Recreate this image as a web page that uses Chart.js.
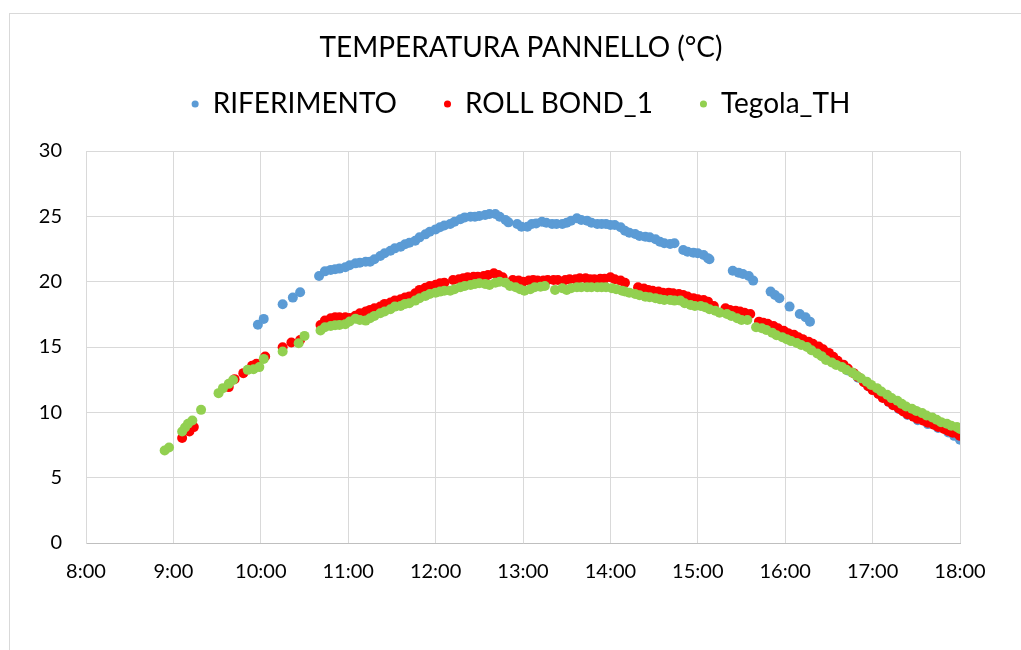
<!DOCTYPE html>
<html>
<head>
<meta charset="utf-8">
<script src="https://cdn.jsdelivr.net/npm/chart.js@4.4.1/dist/chart.umd.min.js"></script>
<style>
  html, body { margin: 0; padding: 0; background: #fff; overflow: hidden; width: 1021px; height: 650px; }
  #frame { position: absolute; left: 9px; top: 13px; width: 1100px; height: 700px; border: 1px solid #d9d9d9; }
  #wrap { position: absolute; left: 10px; top: 0; width: 1022px; height: 650px; }
</style>
</head>
<body>
<div id="frame"></div>
<div id="wrap"><canvas id="c" width="1022" height="650"></canvas></div>
<script>
const chartTitle = "TEMPERATURA PANNELLO (°C)";
const seriesNames = ["RIFERIMENTO", "ROLL BOND_1", "Tegola_TH"];
const seriesColors = ["#5b9bd5", "#ff0000", "#92d050"];
const yTicks = [0, 5, 10, 15, 20, 25, 30];
const xTickLabels = ["8:00","9:00","10:00","11:00","12:00","13:00","14:00","15:00","16:00","17:00","18:00"];

const rifTimes = ["9:58","10:02","10:15","10:22","10:27",
  "10:40","10:44","10:48","10:51","10:54","10:58","11:01","11:05","11:08","11:12","11:15","11:18","11:22","11:25","11:29","11:32","11:36","11:39","11:42","11:46","11:49","11:53","11:56","12:00","12:03","12:06","12:10","12:13","12:17","12:20","12:24","12:27","12:30","12:34","12:37","12:41","12:44","12:48","12:50",
  "12:56","12:59","13:03","13:06","13:09","13:13","13:16","13:20","13:23","13:27","13:30","13:33","13:37","13:40","13:44","13:47","13:51","13:54","13:57","14:00","14:03","14:07","14:10","14:13","14:17","14:20","14:24","14:27","14:31","14:34","14:37","14:41","14:44",
  "14:50","14:53","14:57","15:00","15:04","15:07","15:08",
  "15:24","15:28","15:31","15:35","15:38",
  "15:50","15:53","15:56","16:03","16:10","16:14","16:17",
  "16:30","16:36","16:43","16:50","16:57","17:04","17:11","17:18","17:24","17:31","17:38","17:45","17:52","17:56","18:00"];
const rifValues = [16.7,17.15,18.27,18.78,19.19,
  20.44,20.79,20.9,20.95,21.0,21.1,21.25,21.4,21.45,21.53,21.53,21.71,21.96,22.17,22.37,22.55,22.68,22.86,22.98,23.13,23.39,23.62,23.82,24.0,24.16,24.3,24.41,24.59,24.77,24.92,24.97,24.97,25.02,25.1,25.18,25.18,24.97,24.72,24.54,
  24.41,24.2,24.2,24.41,24.46,24.59,24.51,24.41,24.41,24.41,24.51,24.66,24.85,24.72,24.66,24.51,24.41,24.41,24.41,24.33,24.33,24.16,23.9,23.75,23.65,23.49,23.44,23.39,23.24,23.06,22.94,22.88,22.94,
  22.42,22.29,22.22,22.17,22.04,21.79,21.71,
  20.84,20.69,20.59,20.44,20.08,
  19.24,18.98,18.73,18.09,17.53,17.28,16.94,
  14.3,13.8,13.2,12.65,12.0,11.45,10.8,10.25,9.8,9.4,9.1,8.8,8.45,8.2,7.9];

const rbTimes = ["9:06","9:11","9:14","9:38","9:42","9:48","9:54","9:57","10:03","10:15","10:21","10:27",
  "10:41","10:44","10:48","10:51","10:54","10:58","11:01","11:05","11:08","11:12","11:15","11:18","11:22","11:25","11:29","11:32","11:36","11:39","11:42","11:46","11:49","11:53","11:56","12:00","12:03","12:06",
  "12:12","12:16","12:19","12:22","12:26","12:29","12:33","12:36","12:40","12:43","12:46",
  "12:53","12:57","13:00","13:04","13:07","13:10","13:14","13:17","13:21","13:24","13:29","13:32","13:36","13:39","13:43","13:46","13:49","13:53","13:56","14:00","14:03","14:07","14:10",
  "14:19","14:23","14:26","14:29","14:33","14:36","14:40","14:43","14:47","14:50","14:53","14:57","15:00","15:04","15:07","15:11",
  "15:19","15:22","15:26","15:29","15:32","15:36",
  "15:42","15:45","15:48","15:52","15:55","15:59","16:02","16:06","16:09","16:12","16:16","16:19","16:23","16:26","16:30","16:33","16:36","16:40","16:43","16:47","16:50","16:54","16:57","17:00","17:04","17:07","17:11","17:14","17:18","17:21","17:24","17:28","17:31","17:35","17:38","17:42","17:45","17:49","17:52","17:55","17:59","18:00"];
const rbValues = [8.03,8.53,8.87,11.93,12.54,13.0,13.56,13.71,14.27,14.98,15.34,15.54,
  16.69,17.02,17.2,17.28,17.28,17.28,17.22,17.4,17.58,17.71,17.84,17.97,18.09,18.3,18.4,18.55,18.65,18.78,18.86,19.11,19.37,19.54,19.67,19.77,19.88,19.92,
  20.13,20.18,20.26,20.34,20.38,20.38,20.44,20.51,20.64,20.51,20.34,
  20.13,20.08,20.0,20.08,20.13,20.08,20.08,20.13,20.13,20.13,20.13,20.18,20.18,20.26,20.26,20.18,20.18,20.23,20.23,20.34,20.18,20.08,19.92,
  19.57,19.47,19.37,19.31,19.24,19.16,19.16,19.11,19.06,18.98,18.86,18.73,18.65,18.6,18.47,18.14,
  17.97,17.84,17.78,17.71,17.63,17.53,
  16.94,16.86,16.77,16.61,16.44,16.25,16.06,15.93,15.75,15.6,15.41,15.24,15.03,14.83,14.55,14.25,13.95,13.65,13.35,13.0,12.7,12.3,12.0,11.7,11.4,11.1,10.82,10.55,10.3,10.06,9.85,9.66,9.5,9.35,9.2,9.05,8.88,8.72,8.58,8.44,8.3,8.2];

const thTimes = ["8:54","8:57","9:06","9:08","9:10","9:13","9:19","9:31","9:34","9:38","9:41","9:51","9:55","9:59","10:02","10:15","10:26","10:30",
  "10:41","10:44","10:48","10:51","10:54","10:58","11:01","11:05","11:08","11:12","11:15","11:18","11:22","11:25","11:29","11:32","11:36","11:39","11:42","11:46","11:49","11:53","11:56","12:00","12:03","12:06",
  "12:10","12:13","12:17","12:20","12:24","12:27","12:30","12:34","12:37","12:41","12:44","12:48","12:51","12:55","12:58","13:01","13:05","13:08","13:12","13:15",
  "13:22","13:27","13:30","13:33","13:37","13:40","13:44","13:47","13:51","13:54","13:57","14:01","14:04","14:08","14:10","14:13","14:17","14:20","14:24","14:27","14:31","14:34","14:37","14:41","14:44",
  "14:48","14:51","14:55","14:58","15:02","15:05","15:08","15:12","15:15","15:20","15:23","15:27","15:30","15:34",
  "15:40","15:44","15:47","15:51","15:54","15:58","16:01","16:04","16:08","16:11","16:15","16:18","16:22","16:25","16:28","16:32","16:35","16:39","16:42","16:46","16:49","16:52","16:56","16:59","17:03","17:06","17:10","17:13","17:17","17:20","17:23","17:27","17:30","17:34","17:37","17:41","17:44","17:47","17:51","17:54","17:58","18:00"];
const thValues = [7.08,7.31,8.53,8.84,9.12,9.37,10.19,11.47,11.85,12.18,12.48,13.25,13.3,13.46,14.09,14.65,15.29,15.85,
  16.26,16.51,16.61,16.67,16.69,16.75,16.95,17.17,17.07,17.02,17.2,17.38,17.58,17.71,17.89,18.09,18.14,18.3,18.35,18.55,18.73,18.91,19.06,19.16,19.24,19.31,
  19.31,19.42,19.57,19.67,19.75,19.82,19.88,19.82,19.75,19.92,20.0,19.92,19.67,19.57,19.42,19.31,19.42,19.57,19.62,19.67,
  19.37,19.5,19.37,19.5,19.57,19.57,19.57,19.57,19.57,19.57,19.57,19.5,19.42,19.31,19.25,19.16,19.06,18.96,18.85,18.81,18.73,18.65,18.6,18.6,18.55,
  18.55,18.35,18.22,18.14,18.14,18.04,17.89,17.78,17.63,17.53,17.38,17.2,17.07,17.07,
  16.51,16.44,16.31,16.1,15.9,15.75,15.6,15.45,15.3,15.15,15.0,14.75,14.5,14.3,14.01,13.81,13.63,13.46,13.25,13.04,12.81,12.61,12.35,12.1,11.85,11.59,11.34,11.09,10.88,10.65,10.44,10.27,10.11,9.94,9.76,9.6,9.43,9.25,9.12,8.97,8.87,8.72];

function toMin(s) { const p = s.split(":"); return (+p[0]) * 60 + (+p[1]); }
function pts(times, vals) { return times.map((t, i) => ({ x: toMin(t), y: vals[i] })); }
function fmt(v) { return Math.floor(v / 60) + ":" + String(v % 60).padStart(2, "0"); }

const FONT = "Lato, 'Open Sans', 'DejaVu Sans', sans-serif";

const spacer = {
  id: "spacer",
  beforeLayout(chart) {
    const lg = chart.legend;
    if (lg && !lg._patched) {
      const orig = lg.fit.bind(lg);
      lg.fit = function () { orig(); this.height += 23; };
      lg._patched = true;
    }
  }
};

const R = 5;
new Chart(document.getElementById("c"), {
  type: "scatter",
  data: {
    datasets: [
      { label: seriesNames[0], data: pts(rifTimes, rifValues), backgroundColor: seriesColors[0], borderColor: seriesColors[0], pointRadius: R, pointBorderWidth: 0, order: 2 },
      { label: seriesNames[1], data: pts(rbTimes, rbValues), backgroundColor: seriesColors[1], borderColor: seriesColors[1], pointRadius: R, pointBorderWidth: 0, order: 1 },
      { label: seriesNames[2], data: pts(thTimes, thValues), backgroundColor: seriesColors[2], borderColor: seriesColors[2], pointRadius: R, pointBorderWidth: 0, order: 0 }
    ]
  },
  options: {
    responsive: false,
    animation: false,
    devicePixelRatio: 1,
    layout: { padding: { top: 0, left: 0, right: 0, bottom: 0 } },
    plugins: {
      tooltip: { enabled: false },
      title: {
        display: true, text: chartTitle, color: "#000",
        font: { family: FONT, size: 28, weight: "normal", lineHeight: 1.2 },
        padding: { top: 31.2, bottom: -21.8 }
      },
      legend: {
        display: true, position: "top",
        labels: {
          usePointStyle: true, pointStyle: "circle", boxWidth: 7, boxHeight: 5,
          padding: 47, color: "#000",
          font: { family: FONT, size: 28 },
          sort: (a, b) => a.datasetIndex - b.datasetIndex
        }
      }
    },
    scales: {
      x: {
        type: "linear", min: toMin(xTickLabels[0]), max: toMin(xTickLabels[xTickLabels.length - 1]),
        afterBuildTicks: (s) => { s.ticks = xTickLabels.map(l => ({ value: toMin(l) })); },
        ticks: { callback: (v) => fmt(v), color: "#000", padding: 17, maxRotation: 0, autoSkip: false, font: { family: FONT, size: 20 } },
        grid: { color: "#d9d9d9", drawTicks: false, lineWidth: 1 },
        border: { color: "#bfbfbf", width: 1 },
        afterFit: (s) => { s.height = 107; }
      },
      y: {
        position: "left",
        min: yTicks[0], max: yTicks[yTicks.length - 1],
        afterBuildTicks: (s) => { s.ticks = yTicks.map(v => ({ value: v })); },
        ticks: { color: "#000", padding: 24, font: { family: FONT, size: 20 } },
        grid: { color: "#d9d9d9", drawTicks: false, lineWidth: 1 },
        border: { color: "#d9d9d9", width: 1 },
        afterFit: (s) => { s.width = 76; }
      },
      yRightSpace: {
        position: "right", display: true,
        grid: { display: false, drawTicks: false },
        border: { display: false },
        ticks: { display: false },
        afterFit: (s) => { s.width = 72; }
      }
    }
  },
  plugins: [spacer]
});
</script>
</body>
</html>
